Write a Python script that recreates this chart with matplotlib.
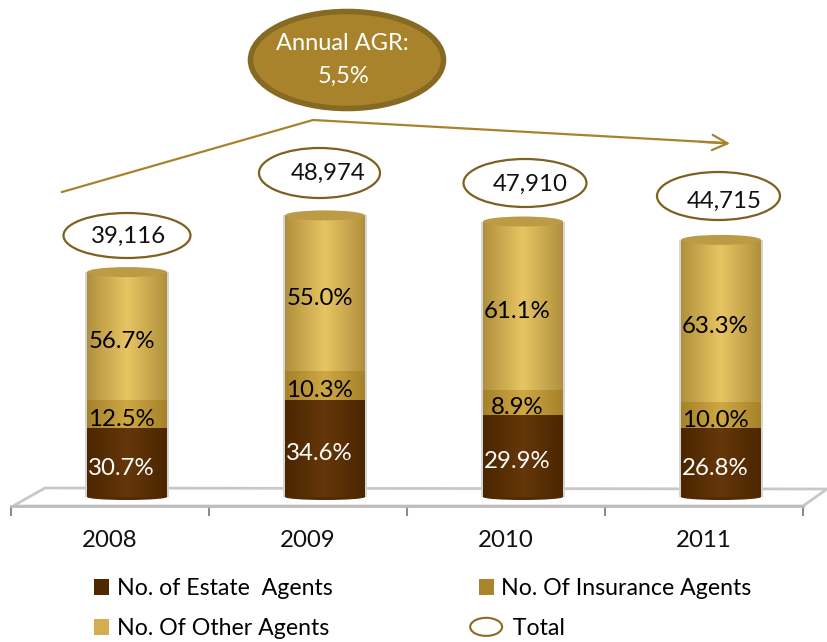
import numpy as np
import matplotlib
matplotlib.use("Agg")
import matplotlib.pyplot as plt
from matplotlib.colors import LinearSegmentedColormap
from matplotlib.legend_handler import HandlerPatch
from matplotlib.patches import Ellipse, Patch, Polygon
from matplotlib.transforms import Affine2D

years = ["2008", "2009", "2010", "2011"]
totals = [39116, 48974, 47910, 44715]
estate_pct = [30.7, 34.6, 29.9, 26.8]
insurance_pct = [12.5, 10.3, 8.9, 10.0]
other_pct = [56.7, 55.0, 61.1, 63.3]
growth_label = ["Annual AGR:", "5,5%"]

W, H = 827, 642
plt.rcParams["font.family"] = ["Lato", "DejaVu Sans"]
FS = 17.3

fig = plt.figure(figsize=(W / 100, H / 100), dpi=100)
AX_BOTTOM = 506
ax = fig.add_axes([0, (H - AX_BOTTOM) / H, 1, AX_BOTTOM / H])
STEP, X0 = 198.0, 110.0
PX_PER_UNIT = 5.75 / 1000
ax.set_xlim(-X0 / STEP, (W - X0) / STEP)
ax.set_ylim(-(AX_BOTTOM - 497) / PX_PER_UNIT, 497 / PX_PER_UNIT)
px = Affine2D().scale(1, -1).translate(0, H)

ax.patch.set_alpha(0)
for s in ("top", "left", "right"):
    ax.spines[s].set_visible(False)
ax.spines["bottom"].set_color("#bdbdbd")
ax.spines["bottom"].set_linewidth(2)
ax.spines["bottom"].set_bounds(-0.5, 3.5)
ax.set_yticks([])
ax.set_xticks(range(len(years)), years, fontsize=FS, color="#111111")
ax.tick_params(axis="x", which="major", length=0, pad=17)
ax.set_xticks(np.arange(-0.5, 4), minor=True)
ax.tick_params(axis="x", which="minor", length=7, width=1.5, color="#8c8c8c")

# perspective floor
ax.add_patch(Polygon([(13, 506), (45, 488), (827, 489), (803, 506)], closed=True,
                     facecolor="white", edgecolor="#c8c8c8", lw=2,
                     transform=px, zorder=1, clip_on=False))

idx = np.arange(len(years))
offset = 17 / STEP
bar_w = 80 / STEP
t = np.array(totals, float)
segments = [
    (t * np.array(estate_pct) / 100, ["#4b2600", "#653709", "#4b2600"], "white"),
    (t * np.array(insurance_pct) / 100, ["#a58129", "#cfa845", "#a58129"], "black"),
    (t * np.array(other_pct) / 100, ["#b0903d", "#e8c563", "#b0903d"], "black"),
]

grad = np.linspace(0, 1, 128).reshape(1, -1)
ell_h_bottom = 6 / PX_PER_UNIT
ell_h_top = 10 / PX_PER_UNIT

# soft shadow around the cylinders
ax.bar(idx + offset, t, bar_w * 1.04, color="#d5d5d5", zorder=2)

bottom = np.zeros(4)
for vals, stops, tcol in segments:
    cmap = LinearSegmentedColormap.from_list("c", stops)
    bars = ax.bar(idx + offset, vals, bar_w, bottom=bottom, color=stops[1], zorder=3)
    for i, r in enumerate(bars):
        im = ax.imshow(grad, cmap=cmap, aspect="auto", zorder=3.1,
                       extent=(r.get_x(), r.get_x() + r.get_width(),
                               r.get_y(), r.get_y() + r.get_height()))
        im.set_clip_path(r)
        ax.annotate(f"{vals[i] / t[i] * 100:.1f}%", (r.get_x() + r.get_width() / 2,
                    r.get_y() + r.get_height() / 2),
                    xytext=(-4, -4), textcoords="offset points", ha="center", va="center",
                    fontsize=FS, color=tcol, zorder=6)
    bottom = bottom + vals

# cylinder ends
for i in idx:
    ax.add_patch(Ellipse((i + offset, 0), bar_w, ell_h_bottom, facecolor="#532b03", zorder=2.9))
    ax.add_patch(Ellipse((i + offset, t[i]), bar_w, ell_h_top, facecolor="#bb9b45",
                         edgecolor="none", zorder=3.5))

ax.set_xlim(-X0 / STEP, (W - X0) / STEP)
ax.set_ylim(-(AX_BOTTOM - 497) / PX_PER_UNIT, 497 / PX_PER_UNIT)

# total ovals
oval_c = [(127, 235.5), (319.5, 173), (525, 183), (718.5, 196)]
oval_s = [(127, 45), (121, 50), (123, 48), (123, 48)]
text_c = [(129, 236), (328, 173), (530, 184), (724, 201)]
for v, c, s, tc in zip(totals, oval_c, oval_s, text_c):
    ax.add_patch(Ellipse(c, s[0], s[1], facecolor="white", edgecolor="#7b6220", lw=1.6,
                         transform=px, zorder=5, clip_on=False))
    ax.text(*tc, f"{v:,}", transform=px, ha="center", va="center", fontsize=FS,
            color="#111111", zorder=6)

# growth badge and arrow
ax.add_patch(Ellipse((347, 60), 193, 97, facecolor="#a9832b", edgecolor="#866a23", lw=4,
                     transform=px, zorder=5, clip_on=False))
ax.text(342, 43, growth_label[0], transform=px, ha="center", va="center", fontsize=17,
        color="white", zorder=6)
ax.text(344, 76, growth_label[1], transform=px, ha="center", va="center", fontsize=17,
        color="white", zorder=6)
ax.plot([62, 313, 725], [192, 120, 143], transform=px, color="#a9822c", lw=1.6, zorder=4,
        solid_joinstyle="miter", clip_on=False)
ax.annotate("", xy=(730, 143.5), xytext=(700, 141.8), xycoords=px, textcoords=px,
            arrowprops=dict(arrowstyle="->,head_length=1.1,head_width=0.55", color="#a9822c",
                            lw=1.6, shrinkA=0, shrinkB=0), zorder=4)


class HandlerOval(HandlerPatch):
    def create_artists(self, legend, orig, xd, yd, w, h, fs, trans):
        p = Ellipse((w / 2 - xd, h / 2 - yd), 23, 13, facecolor="white",
                    edgecolor="#8a6c22", lw=1.5, transform=trans)
        return [p]


handles = [
    Patch(facecolor="#4f2800", label="No. of Estate  Agents"),
    Patch(facecolor="#d4ad50", label="No. Of Other Agents"),
    Patch(facecolor="#ab852c", label="No. Of Insurance Agents"),
    Patch(label="  Total"),
]
leg = fig.legend(handles=handles, ncol=2, loc="lower left", bbox_to_anchor=(94 / W, (H - 639) / H),
                 frameon=False, fontsize=16.7, handlelength=0.65, handleheight=0.65,
                 handletextpad=0.33, columnspacing=6.3, labelspacing=0.82, borderpad=0, borderaxespad=0,
                 handler_map={handles[3]: HandlerOval()})

fig.savefig("out.png", dpi=100)
